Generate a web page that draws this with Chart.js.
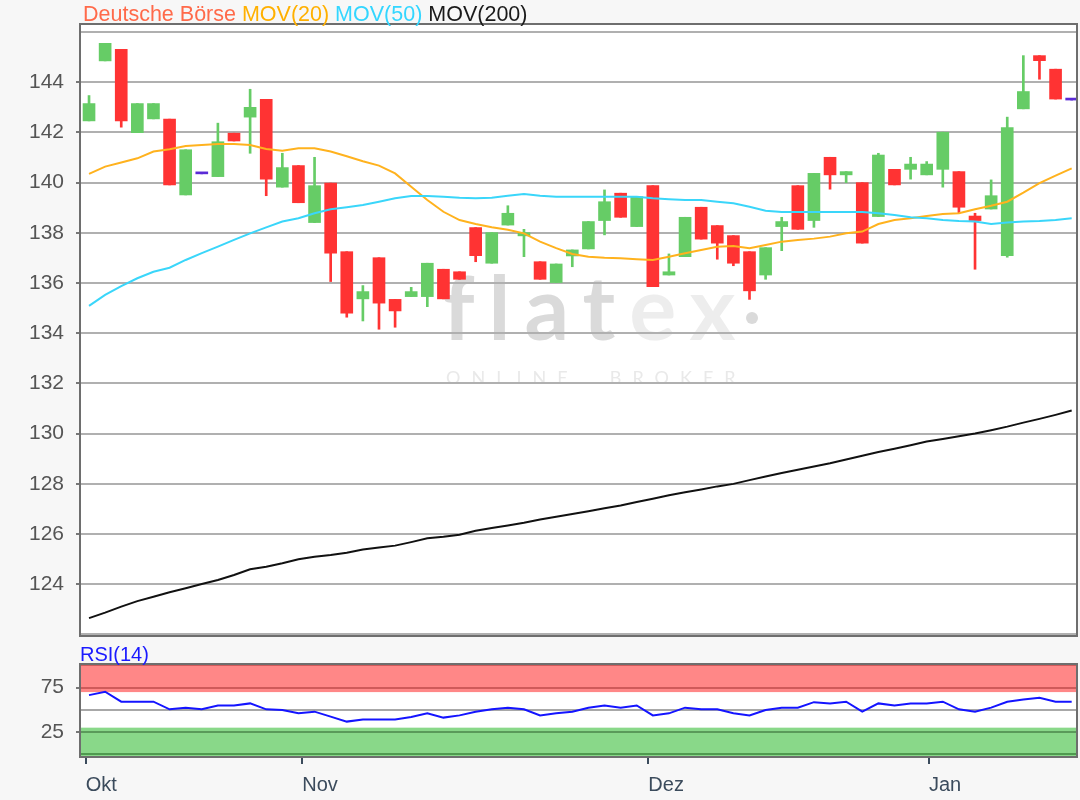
<!DOCTYPE html>
<html>
<head>
<meta charset="utf-8">
<script src="https://cdn.jsdelivr.net/npm/chart.js@4/dist/chart.umd.min.js"></script>
<style>
html,body{margin:0;padding:0;background:#f7f7f7;width:1080px;height:800px;overflow:hidden}
#mainWrap{position:absolute;left:0;top:0;width:1080px;height:640px}
#rsiWrap{position:absolute;left:0;top:640px;width:1080px;height:160px}
</style>
</head>
<body>
<div id="mainWrap"><canvas id="main" width="1080" height="640"></canvas></div>
<div id="rsiWrap"><canvas id="rsi" width="1080" height="160"></canvas></div>
<script>
// ---------------- DATA ----------------
const opens = [142.46,144.85,145.31,141.99,142.54,142.53,139.51,140.35,140.24,141.97,
142.61,143.32,139.82,140.68,138.41,139.98,137.25,135.37,137.01,135.35,
135.46,135.46,136.55,136.45,138.21,136.79,138.31,137.88,136.85,136.02,
137.08,137.36,138.49,139.58,138.25,139.88,136.32,137.05,139.02,138.29,
137.89,137.25,136.32,138.25,139.88,138.49,141.01,140.31,140.00,138.65,
140.53,140.53,140.31,140.53,140.44,138.67,138.95,137.09,142.94,145.06,
144.52,143.29];
const highs = [143.47,145.55,145.31,143.15,143.15,142.53,141.31,140.35,142.37,141.97,
143.72,143.32,141.17,140.68,141.01,139.98,137.25,135.90,137.01,135.35,
135.83,136.79,136.55,136.45,138.21,138.01,139.08,138.14,136.85,136.76,
137.32,138.45,139.71,139.58,139.44,139.88,137.16,138.62,139.02,138.29,
137.89,137.25,137.41,138.62,139.88,140.37,141.01,140.44,140.00,141.17,
140.53,141.01,140.84,142.01,140.44,138.78,140.11,142.61,145.06,145.06,
144.52,143.29];
const lows = [142.46,144.85,142.21,141.99,142.54,139.91,139.51,140.35,140.24,141.66,
141.17,139.48,139.82,139.20,138.41,136.06,134.64,134.49,134.16,134.24,
135.46,135.06,135.37,136.15,136.85,136.79,138.31,137.05,136.15,136.02,
136.65,137.36,137.92,138.62,138.25,135.86,136.32,137.05,137.75,136.95,
136.69,135.35,136.15,137.29,138.14,138.22,139.74,140.00,137.59,138.65,
139.91,140.14,140.31,139.82,138.78,136.55,138.95,137.03,142.94,144.12,
143.33,143.29];
const closes = [143.15,145.55,142.46,143.15,143.15,139.91,141.31,140.35,141.63,141.66,
143.00,140.14,140.60,139.20,139.88,137.19,134.80,135.66,135.20,134.89,
135.66,136.79,135.37,136.15,137.09,138.01,138.78,138.01,136.15,136.76,
137.32,138.45,139.24,138.62,139.44,135.86,136.45,138.62,137.75,137.59,
136.79,135.69,137.41,138.45,138.14,140.37,140.31,140.44,137.59,141.10,
139.91,140.74,140.74,142.01,139.02,138.49,139.48,142.19,143.63,144.86,
143.33,143.29];
const ma20 = [140.35,140.64,140.80,140.97,141.24,141.33,141.46,141.50,141.54,141.54,
141.50,141.34,141.27,141.37,141.37,141.24,141.05,140.85,140.68,140.37,
139.84,139.31,138.84,138.51,138.35,138.22,138.12,137.98,137.65,137.39,
137.16,137.05,137.01,136.99,136.95,136.92,137.05,137.19,137.32,137.45,
137.48,137.39,137.52,137.65,137.72,137.77,137.85,137.98,138.05,138.35,
138.51,138.58,138.67,138.75,138.78,138.94,139.08,139.24,139.60,139.98,
140.28,140.57];
const ma50 = [135.09,135.53,135.88,136.19,136.45,136.61,136.92,137.19,137.45,137.72,
137.98,138.22,138.45,138.58,138.78,138.94,139.02,139.11,139.24,139.38,
139.47,139.47,139.44,139.40,139.38,139.40,139.48,139.55,139.48,139.44,
139.44,139.44,139.44,139.44,139.44,139.38,139.34,139.31,139.31,139.24,
139.18,139.04,138.88,138.83,138.83,138.83,138.83,138.83,138.83,138.78,
138.71,138.62,138.58,138.51,138.47,138.45,138.35,138.41,138.45,138.47,
138.51,138.58];
const ma200 = [122.65,122.87,123.11,123.33,123.50,123.68,123.84,124.01,124.17,124.37,
124.60,124.70,124.84,125.00,125.10,125.17,125.26,125.39,125.47,125.54,
125.68,125.83,125.89,125.97,126.13,126.24,126.34,126.45,126.58,126.69,
126.80,126.91,127.03,127.14,127.28,127.41,127.55,127.67,127.78,127.90,
128.00,128.15,128.29,128.43,128.56,128.69,128.82,128.97,129.12,129.27,
129.40,129.54,129.69,129.79,129.90,130.01,130.14,130.28,130.44,130.59,
130.75,130.92];
const rsi14 = [66.6,70.4,59.2,59.2,59.2,50.6,52.5,50.6,55.0,55.0,
57.3,50.6,49.8,46.1,48.0,42.4,36.8,39.3,39.3,39.3,
42.0,46.1,41.3,43.8,48.0,50.6,52.5,50.6,43.8,46.1,
48.0,52.5,55.0,52.5,55.0,43.8,46.1,52.5,50.6,50.6,
46.1,43.8,49.8,52.5,52.5,58.7,57.3,59.2,48.0,57.3,
55.0,57.3,57.3,59.2,50.6,48.0,52.5,59.2,61.8,63.7,
59.2,59.2];
const monthLabels = ['Okt','Nov','Dez','Jan'];
const monthTickPos = [-0.2, 13.24, 34.72, 52.14];
const priceTicks = [122,124,126,128,130,132,134,136,138,140,142,144,146];
const priceLabels = ['','124','126','128','130','132','134','136','138','140','142','144',''];
const rsiTicks = [0,25,50,75,100];
const rsiLabels = ['','25','','75',''];
const seriesNames = ['Deutsche Börse','MOV(20)','MOV(50)','MOV(200)'];

// ---------------- DERIVED ----------------
const days = opens.map((_, i) => i);
const bodies = opens.map((o, i) => [o, closes[i]]);
const wicks = lows.map((l, i) => [l, highs[i]]);
const UP = '#66cc66', DOWN = '#ff3333', FLAT = '#5b2bd6';
const candleColors = opens.map((o, i) => closes[i] > o ? UP : (closes[i] < o ? DOWN : FLAT));

const FONT = "'Liberation Sans', Arial, Helvetica, sans-serif";
const X_MIN = -0.56, X_MAX = 61.33;
const Y_MIN = 121.94, Y_MAX = 146.32;

// ---------------- PLUGINS ----------------
function frameRect(chart){
  const {ctx, chartArea:a} = chart;
  ctx.save();
  ctx.strokeStyle = '#6e6e6e'; ctx.lineWidth = 2;
  ctx.strokeRect(a.left, a.top, a.right - a.left, a.bottom - a.top);
  ctx.restore();
}
function noPad(s){ s.paddingTop = 0; s.paddingBottom = 0; s.paddingLeft = 0; s.paddingRight = 0; }
const mainDecor = {
  id:'mainDecor',
  beforeDraw(chart){
    const {ctx, chartArea:a} = chart;
    ctx.save();
    ctx.fillStyle = '#ffffff';
    ctx.fillRect(a.left, a.top, a.right - a.left, a.bottom - a.top);
    // watermark
    ctx.textBaseline = 'alphabetic';
    ctx.font = "bold 88px Lato, 'Open Sans', sans-serif";
    try { ctx.letterSpacing = '14px'; } catch(e) {}
    ctx.fillStyle = '#dadada';
    ctx.fillText('flat', 443, 340);
    const w = ctx.measureText('flat').width;
    ctx.fillStyle = '#ededed';
    ctx.fillText('ex', 443 + w, 340);
    ctx.fillStyle = '#dadada';
    ctx.beginPath(); ctx.arc(752, 318, 6, 0, Math.PI*2); ctx.fill();
    ctx.font = "18px Lato, 'Open Sans', sans-serif";
    try { ctx.letterSpacing = '11px'; } catch(e) {}
    ctx.fillStyle = '#e9e9e9';
    ctx.fillText('ONLINE  BROKER', 446, 384);
    ctx.restore();
  },
  afterDraw(chart){
    frameRect(chart);
    const ctx = chart.ctx;
    ctx.save();
    ctx.font = '21.5px ' + FONT;
    ctx.textBaseline = 'alphabetic';
    const cols = ['#ff6a4a','#ffb000','#33d6ff','#1a1a1a'];
    let x = 83;
    const sp = ctx.measureText(' ').width;
    seriesNames.forEach((t, i) => {
      ctx.fillStyle = cols[i];
      ctx.fillText(t, x, 21);
      x += ctx.measureText(t).width + sp;
    });
    ctx.restore();
  }
};
const rsiDecor = {
  id:'rsiDecor',
  beforeDraw(chart){
    const {ctx, chartArea:a, scales:{y}} = chart;
    ctx.save();
    ctx.fillStyle = '#ffffff';
    ctx.fillRect(a.left, a.top, a.right - a.left, a.bottom - a.top);
    const y70 = y.getPixelForValue(70), y30 = y.getPixelForValue(30);
    ctx.fillStyle = '#ff8787';
    ctx.fillRect(a.left, a.top, a.right - a.left, y70 - a.top);
    ctx.fillStyle = '#89d889';
    ctx.fillRect(a.left, y30, a.right - a.left, a.bottom - y30);
    ctx.restore();
  },
  afterDraw(chart){
    frameRect(chart);
    const ctx = chart.ctx;
    ctx.save();
    ctx.font = '20px ' + FONT;
    ctx.fillStyle = '#1a1aff';
    ctx.textBaseline = 'alphabetic';
    ctx.fillText('RSI(14)', 80, 21);
    ctx.restore();
  }
};

// ---------------- MAIN CHART ----------------
new Chart(document.getElementById('main'), {
  type:'bar',
  data:{
    labels: days,
    datasets:[
      {type:'line', label:'MOV(200)', data: ma200, borderColor:'#111111', borderWidth:2, pointRadius:0, tension:0, order:0},
      {type:'line', label:'MOV(50)', data: ma50, borderColor:'#3ad6fa', borderWidth:2, pointRadius:0, tension:0, order:1},
      {type:'line', label:'MOV(20)', data: ma20, borderColor:'#ffb21e', borderWidth:2, pointRadius:0, tension:0, order:1},
      {label:'Kerzen', data: bodies, backgroundColor: candleColors, barThickness:12, grouped:false, minBarLength:2, borderWidth:0, order:2},
      {label:'Dochte', data: wicks, backgroundColor: candleColors, barThickness:2, grouped:false, borderWidth:0, order:3}
    ]
  },
  options:{
    responsive:false, animation:false, events:[],
    layout:{padding:{top:24, right:3, bottom:4, left:0}},
    plugins:{legend:{display:false}, tooltip:{enabled:false}, title:{display:false}},
    scales:{
      x:{type:'linear', min:X_MIN, max:X_MAX, display:false, offset:false, grid:{offset:false}},
      y:{type:'linear', min:Y_MIN, max:Y_MAX,
        afterFit(s){ s.width = 80; noPad(s); },
        afterBuildTicks(s){ s.ticks = priceTicks.map(v => ({value:v})); },
        ticks:{autoSkip:false, callback:(v, i) => priceLabels[i], font:{family:FONT, size:21}, color:'#555555', padding:12},
        grid:{color:'#b0b0b0', lineWidth:2, tickLength:4,
          tickColor:(c) => (c.tick && priceLabels[priceTicks.indexOf(c.tick.value)] !== '') ? '#777777' : 'rgba(0,0,0,0)'},
        border:{display:false}
      }
    }
  },
  plugins:[mainDecor]
});

// ---------------- RSI CHART ----------------
const rsiGridColor = {0:'#4f9a4f', 25:'#5a9a5a', 50:'#a8a8a8', 75:'#cf5a5a', 100:'#cf5a5a'};
new Chart(document.getElementById('rsi'), {
  type:'line',
  data:{
    labels: days,
    datasets:[{label:'RSI(14)', data: rsi14, borderColor:'#1414ff', borderWidth:2, pointRadius:0, tension:0}]
  },
  options:{
    responsive:false, animation:false, events:[],
    layout:{padding:{top:24, right:3, bottom:0, left:0}},
    plugins:{legend:{display:false}, tooltip:{enabled:false}},
    scales:{
      x:{type:'linear', min:X_MIN, max:X_MAX, offset:false,
        afterFit(s){ s.height = 43; noPad(s); },
        afterBuildTicks(s){ s.ticks = monthTickPos.map(v => ({value:v})); },
        ticks:{autoSkip:false, maxRotation:0, align:'start', callback:(v, i) => monthLabels[i],
          font:{family:FONT, size:20}, color:'#3b4b5c', padding:9},
        grid:{drawOnChartArea:false, tickLength:7, tickColor:'#3b4b5c', lineWidth:2},
        border:{display:false}
      },
      y:{type:'linear', min:-3, max:101.6,
        afterFit(s){ s.width = 80; noPad(s); },
        afterBuildTicks(s){ s.ticks = rsiTicks.map(v => ({value:v})); },
        ticks:{autoSkip:false, callback:(v, i) => rsiLabels[i], font:{family:FONT, size:21}, color:'#555555', padding:12},
        grid:{color:(c) => rsiGridColor[c.tick ? c.tick.value : 50] || '#a8a8a8', lineWidth:2, tickLength:4,
          tickColor:(c) => (c.tick && (c.tick.value === 25 || c.tick.value === 75)) ? '#777777' : 'rgba(0,0,0,0)'},
        border:{display:false}
      }
    }
  },
  plugins:[rsiDecor]
});
</script>
</body>
</html>
